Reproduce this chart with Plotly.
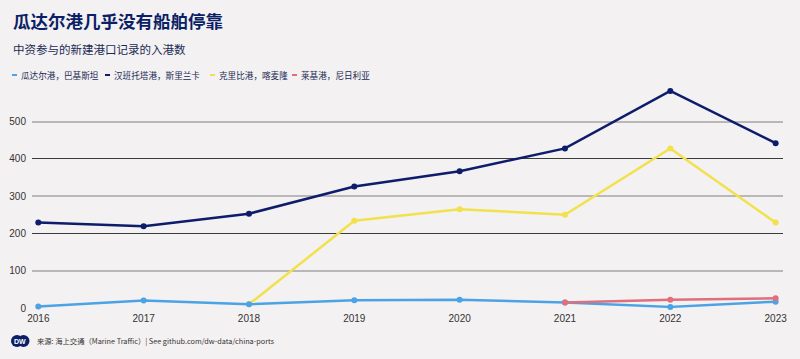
import plotly.graph_objects as go

years = [2016, 2017, 2018, 2019, 2020, 2021, 2022, 2023]
gwadar = [4, 20, 10, 21, 22, 15, 3, 17]
hambantota = [229, 219, 253, 326, 367, 428, 582, 442]
kribi_years = [2018, 2019, 2020, 2021, 2022, 2023]
kribi = [10, 234, 265, 250, 428, 229]
lekki_years = [2021, 2022, 2023]
lekki = [15, 22, 26]

names = ["瓜达尔港，巴基斯坦", "汉班托塔港，斯里兰卡", "克里比港，喀麦隆", "莱基港，尼日利亚"]
colors = ["#4ba3e6", "#0d1c6b", "#f1e24d", "#de6f7b"]

title = "瓜达尔港几乎没有船舶停靠"
subtitle = "中资参与的新建港口记录的入港数"
source = "来源: 海上交通（Marine Traffic）| See github.com/dw-data/china-ports"

FONT = "Liberation Sans, Noto Sans CJK SC, sans-serif"
CJK = "Noto Sans CJK SC, sans-serif"
BG = "#f3f1f1"

ML, MR, MT, MB = 32, 17, 88, 51

fig = go.Figure()
series = [(years, gwadar), (years, hambantota), (kribi_years, kribi), (lekki_years, lekki)]
order = [1, 2, 0, 3]
for i in order:
    xs, ys = series[i]
    fig.add_trace(go.Scatter(
        x=xs, y=ys, name=names[i], mode="lines+markers",
        line=dict(color=colors[i], width=2.5),
        marker=dict(color=colors[i], size=6),
        cliponaxis=False, showlegend=False,
    ))

fig.add_trace(go.Scatter(x=[years[0]], y=[0], yaxis="y2", mode="markers",
                         marker=dict(opacity=0), showlegend=False, hoverinfo="skip"))

fig.update_layout(
    width=800, height=359,
    margin=dict(l=ML, r=MR, t=MT, b=MB, autoexpand=False),
    paper_bgcolor=BG, plot_bgcolor=BG,
    font=dict(family=FONT, size=10, color="#333333"),
    showlegend=False,
    xaxis=dict(
        range=[2015.94, 2023.07], tickvals=years, ticktext=[str(y) for y in years],
        showgrid=False, zeroline=False, showline=False, automargin=False,
        ticks="", tickfont=dict(size=10, color="#333333"), ticklabelstandoff=3,
    ),
    yaxis=dict(
        range=[0, 590], tickvals=[0, 200, 400], ticktext=["0", "200", "400"],
        showgrid=True, gridcolor="#3c3c3c", gridwidth=1, automargin=False,
        zeroline=False, showline=False, ticks="",
        tickfont=dict(size=10, color="#333333"), ticklabelstandoff=5,
    ),
    yaxis2=dict(
        range=[0, 590], overlaying="y", side="left", automargin=False,
        tickvals=[100, 300, 500], ticktext=["100", "300", "500"],
        showgrid=True, gridcolor="#b8b8b8", gridwidth=2,
        zeroline=False, showline=False, ticks="",
        tickfont=dict(size=10, color="#333333"), ticklabelstandoff=5,
    ),
)

pw = 800 - ML - MR
ph = 359 - MT - MB

def px(xp, yp):
    return (xp - ML) / pw, 1 - (yp - MT) / ph

def add_text(text, xp, yp, font, xanchor="left"):
    x, y = px(xp, yp)
    fig.add_annotation(text=text, x=x, y=y, xref="paper", yref="paper", showarrow=False,
                       xanchor=xanchor, yanchor="middle", font=font)

add_text("<b>" + title + "</b>", 11, 21, dict(family=CJK, size=17.5, color="#0b1f66"))
add_text(subtitle, 11, 49, dict(family=CJK, size=11.5, color="#1b2a55"))
leg_sym = [12, 105, 210, 292]
leg_txt = [19, 112, 217, 299]
for i in range(4):
    x0, y0 = px(leg_sym[i], 74)
    x1, y1 = px(leg_sym[i] + 5, 76)
    fig.add_shape(type="rect", xref="paper", yref="paper", x0=x0, y0=y0, x1=x1, y1=y1,
                  fillcolor=colors[i], line=dict(width=0))
    add_text(names[i], leg_txt[i], 75, dict(family=CJK, size=8.6, color="#1b2a55"))

add_text(source, 35, 341, dict(family=CJK, size=7.3, color="#333333"))

# DW logo: two overlapping navy circles with white letters
for cx in (17, 23.5):
    x0, y0 = px(cx - 6, 335)
    x1, y1 = px(cx + 6, 347)
    fig.add_shape(type="circle", xref="paper", yref="paper", x0=x0, y0=y0, x1=x1, y1=y1,
                  fillcolor="#0b1f66", line=dict(width=0))
add_text("<b>DW</b>", 20.3, 341, dict(family=FONT, size=7, color="white"), xanchor="center")

fig.write_html("out.html", config={"displayModeBar": False},
               post_script="document.body.style.margin='0';document.body.style.overflow='hidden';")
